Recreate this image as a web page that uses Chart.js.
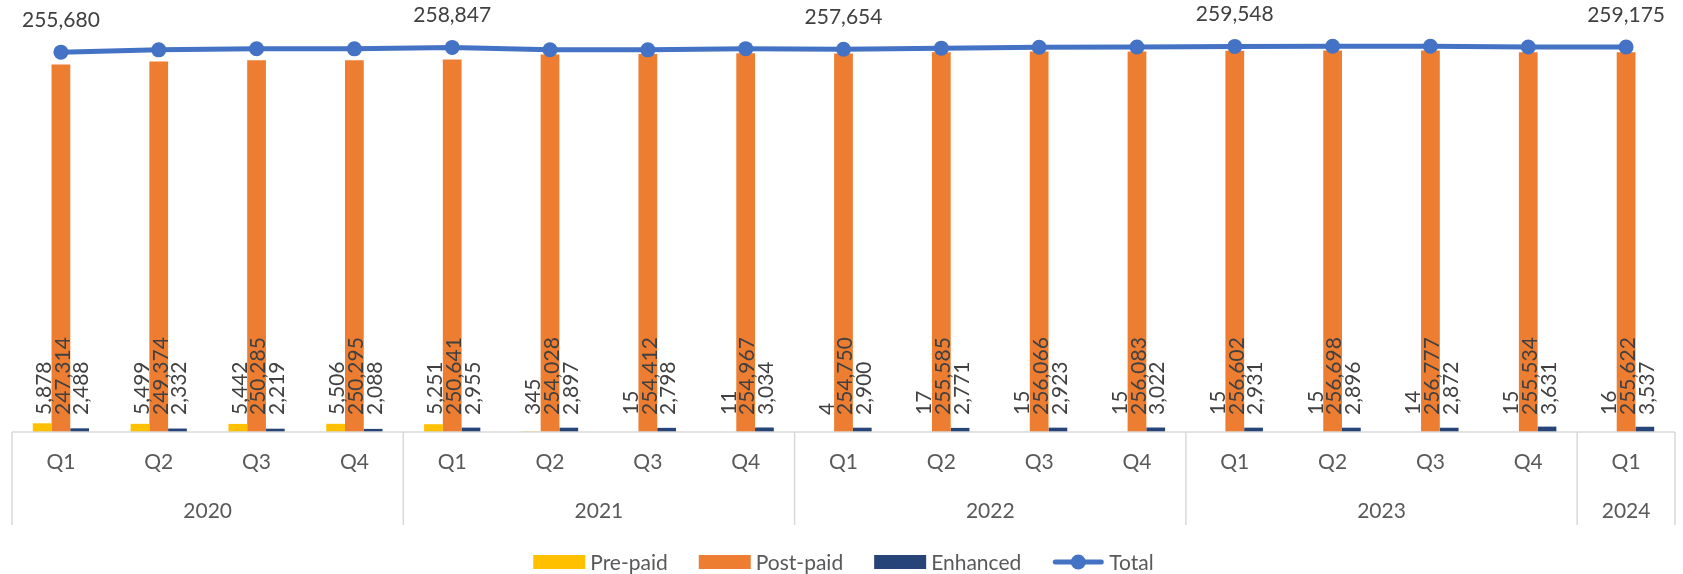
<!doctype html>
<html lang="en">
<head>
  <meta charset="utf-8">
  <title>Customers by type</title>
  <style>
    html, body { margin: 0; padding: 0; background: #fff; }
    #wrap { position: relative; width: 1683px; height: 574px; }
  </style>
</head>
<body>
  <div id="wrap"><canvas id="grafico"></canvas></div>

  <script src="https://cdn.jsdelivr.net/npm/chart.js"></script>
  <script>
    // data
    const quarters = ['Q1','Q2','Q3','Q4','Q1','Q2','Q3','Q4','Q1','Q2','Q3','Q4','Q1','Q2','Q3','Q4','Q1'];
    const years = ['2020','2021','2022','2023','2024'];
    const yearSpans = [4, 4, 4, 4, 1];
    const prePaid = [5878, 5499, 5442, 5506, 5251, 345, 15, 11, 4, 17, 15, 15, 15, 15, 14, 15, 16];
    const postPaid = [247314, 249374, 250285, 250295, 250641, 254028, 254412, 254967, 254750, 255585, 256066, 256083, 256602, 256698, 256777, 255534, 255622];
    const enhanced = [2488, 2332, 2219, 2088, 2955, 2897, 2798, 3034, 2900, 2771, 2923, 3022, 2931, 2896, 2872, 3631, 3537];
    const total = [255680, 257205, 257946, 257889, 258847, 257270, 257225, 258012, 257654, 258373, 259004, 259120, 259548, 259609, 259663, 259180, 259175];
    const totalLabelIdx = [0, 4, 8, 12, 16];

    const fuente = 'Lato';
    const fmt = v => v.toLocaleString('en-US');

    // vertical value labels on the bars + labels over the total line
    const etiquetas = {
      id: 'etiquetas',
      afterDatasetsDraw(chart) {
        const ctx = chart.ctx;
        const y0 = chart.scales.y.getPixelForValue(0);
        ctx.save();
        ctx.font = `21px ${fuente}`;
        ctx.fillStyle = '#404040';
        [0, 1, 2].forEach(d => {
          chart.getDatasetMeta(d).data.forEach((bar, i) => {
            ctx.save();
            ctx.translate(bar.x, y0 - 17);
            ctx.rotate(-Math.PI / 2);
            ctx.textAlign = 'left';
            ctx.textBaseline = 'middle';
            ctx.fillText(fmt(chart.data.datasets[d].data[i]), 0, 2);
            ctx.restore();
          });
        });
        const meta = chart.getDatasetMeta(3);
        ctx.textAlign = 'center';
        ctx.textBaseline = 'middle';
        totalLabelIdx.forEach(i => {
          const p = meta.data[i];
          ctx.fillText(fmt(total[i]), p.x, p.y - 32);
        });
        ctx.restore();
      }
    };

    // year row with the table lines under the quarters
    const tablaAnios = {
      id: 'tablaAnios',
      afterDraw(chart) {
        const ctx = chart.ctx;
        const x = chart.scales.x;
        const half = (x.getPixelForValue(1) - x.getPixelForValue(0)) / 2;
        const top = chart.chartArea.bottom;
        const left = x.getPixelForValue(0) - half;
        const right = x.getPixelForValue(quarters.length - 1) + half;
        ctx.save();
        ctx.strokeStyle = '#D9D9D9';
        ctx.lineWidth = 1.5;
        ctx.beginPath();
        ctx.moveTo(left, top);
        ctx.lineTo(right, top);
        ctx.stroke();
        ctx.font = `21px ${fuente}`;
        ctx.fillStyle = '#595959';
        ctx.textAlign = 'center';
        ctx.textBaseline = 'middle';
        let start = 0;
        yearSpans.forEach((n, k) => {
          const xl = x.getPixelForValue(start) - half;
          ctx.beginPath();
          ctx.moveTo(xl, top);
          ctx.lineTo(xl, top + 93);
          ctx.stroke();
          const xc = (x.getPixelForValue(start) + x.getPixelForValue(start + n - 1)) / 2;
          ctx.fillText(years[k], xc, 511);
          start += n;
        });
        ctx.beginPath();
        ctx.moveTo(right, top);
        ctx.lineTo(right, top + 93);
        ctx.stroke();
        ctx.restore();
      }
    };

    // legend like the excel one (line with a marker for Total)
    const leyenda = {
      id: 'leyenda',
      afterDraw(chart) {
        const ctx = chart.ctx;
        ctx.save();
        ctx.font = `21px ${fuente}`;
        const items = chart.data.datasets.map(ds => ({ ds, w: 52 + 5 + ctx.measureText(ds.label).width }));
        const ancho = items.reduce((a, b) => a + b.w, 0) + 31 * (items.length - 1);
        let x = (chart.chartArea.left + chart.chartArea.right) / 2 - ancho / 2;
        const y = 562;
        items.forEach(it => {
          if (it.ds.type === 'line') {
            ctx.strokeStyle = it.ds.borderColor;
            ctx.lineWidth = 5;
            ctx.lineCap = 'round';
            ctx.beginPath();
            ctx.moveTo(x + 3, y);
            ctx.lineTo(x + 49, y);
            ctx.stroke();
            ctx.fillStyle = it.ds.borderColor;
            ctx.beginPath();
            ctx.arc(x + 26, y, 7.5, 0, Math.PI * 2);
            ctx.fill();
          } else {
            ctx.fillStyle = it.ds.backgroundColor;
            ctx.fillRect(x, y - 7, 52, 14);
          }
          ctx.fillStyle = '#595959';
          ctx.textAlign = 'left';
          ctx.textBaseline = 'middle';
          ctx.fillText(it.ds.label, x + 57, y + 1);
          x += it.w + 31;
        });
        ctx.restore();
      }
    };

    const lienzo = document.getElementById('grafico');
    const grafico = new Chart(lienzo, {
      type: 'bar',
      data: {
        labels: quarters,
        datasets: [
          { label: 'Pre-paid', data: prePaid, backgroundColor: '#FFC000', order: 1 },
          { label: 'Post-paid', data: postPaid, backgroundColor: '#ED7D31', order: 1 },
          { label: 'Enhanced', data: enhanced, backgroundColor: '#264478', order: 1 },
          {
            type: 'line', label: 'Total', data: total, order: 0,
            borderColor: '#4472C4', backgroundColor: '#4472C4', borderWidth: 5,
            pointRadius: 7.5, pointHoverRadius: 7.5, pointBorderWidth: 0, tension: 0
          }
        ]
      },
      options: {
        responsive: true,
        maintainAspectRatio: false,
        animation: false,
        datasets: { bar: { categoryPercentage: 0.575, barPercentage: 1.0 } },
        layout: { padding: { top: 16, left: 12, right: 8, bottom: 0 } },
        scales: {
          x: {
            grid: { display: false, drawTicks: false },
            border: { display: false },
            ticks: { font: { family: fuente, size: 21 }, color: '#595959', padding: 18, maxRotation: 0, autoSkip: false },
            afterFit: s => { s.height = 142; }
          },
          y: { display: false, min: 0, max: 280000 }
        },
        plugins: {
          legend: { display: false },
          tooltip: { enabled: false }
        }
      },
      plugins: [etiquetas, tablaAnios, leyenda]
    });
  </script>
</body>
</html>
